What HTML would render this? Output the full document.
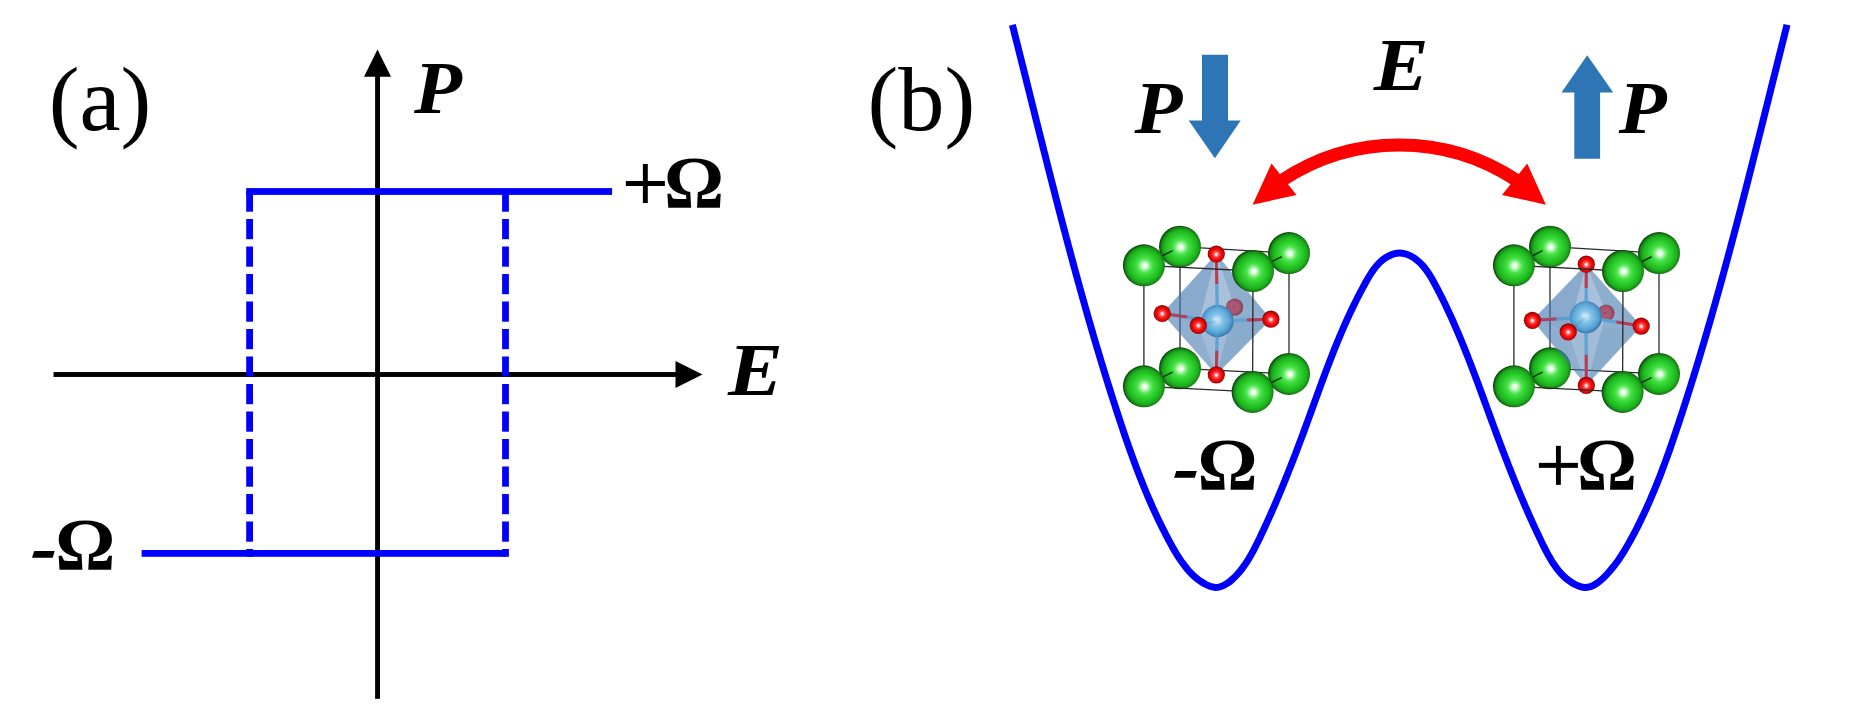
<!DOCTYPE html>
<html><head><meta charset="utf-8"><title>Figure</title>
<style>
html,body{margin:0;padding:0;background:#fff;}
body{width:1861px;height:713px;overflow:hidden;}
svg{display:block;position:absolute;left:0;top:0;}
text{font-family:"Liberation Serif",serif;fill:#000;}
.bi{font-weight:bold;font-style:italic;font-size:75px;}
.b{font-weight:bold;font-size:75px;}
.r{font-size:91px;}
</style></head><body>
<svg width="1861" height="713" viewBox="0 0 1861 713">
<defs>
<radialGradient id="gG" cx="0.52" cy="0.51" r="0.5" fx="0.52" fy="0.51">
<stop offset="0" stop-color="#ffffff"/><stop offset="0.09" stop-color="#f0fff0"/><stop offset="0.2" stop-color="#9af59a"/>
<stop offset="0.36" stop-color="#48e048"/><stop offset="0.6" stop-color="#28cb28"/><stop offset="0.8" stop-color="#1fb21f"/>
<stop offset="0.93" stop-color="#158815"/><stop offset="1" stop-color="#0a500a"/>
</radialGradient>
<radialGradient id="gR" cx="0.5" cy="0.52" r="0.5">
<stop offset="0" stop-color="#ffffff"/><stop offset="0.12" stop-color="#ffd8d8"/><stop offset="0.3" stop-color="#ff4a4a"/>
<stop offset="0.6" stop-color="#f00c0c"/><stop offset="0.85" stop-color="#d00404"/><stop offset="1" stop-color="#7a0000"/>
</radialGradient>
<radialGradient id="gK" cx="0.45" cy="0.5" r="0.5">
<stop offset="0" stop-color="#a83848"/><stop offset="0.25" stop-color="#d85060"/><stop offset="0.7" stop-color="#d04858"/><stop offset="1" stop-color="#a03040"/>
</radialGradient>
<radialGradient id="gB" cx="0.48" cy="0.48" r="0.5">
<stop offset="0" stop-color="#ffffff"/><stop offset="0.14" stop-color="#dff2fc"/><stop offset="0.35" stop-color="#8fd0f2"/>
<stop offset="0.7" stop-color="#66b2e0"/><stop offset="0.9" stop-color="#4e98cc"/><stop offset="1" stop-color="#3a7cb0"/>
</radialGradient>
</defs>
<rect width="1861" height="713" fill="#fff"/>

<!-- panel (a) -->
<g id="panelA">
<rect x="375.1" y="70" width="4.9" height="628.8" fill="#000"/>
<polygon points="377.5,49.5 364.0,76.7 391.0,76.7" fill="#000"/>
<rect x="53.5" y="372.05" width="630" height="4.9" fill="#000"/>
<polygon points="702.5,374.5 675.5,361 675.5,388" fill="#000"/>
<rect x="246.2" y="188.1" width="365.9" height="6.8" fill="#0000ff"/>
<rect x="141.6" y="550.0" width="364" height="6.8" fill="#0000ff"/>
<rect x="246.2" y="191.5" width="6.8" height="20.2" fill="#0000ff"/>
<rect x="246.2" y="219.0" width="6.8" height="20.2" fill="#0000ff"/>
<rect x="246.2" y="246.5" width="6.8" height="20.2" fill="#0000ff"/>
<rect x="246.2" y="274.0" width="6.8" height="20.2" fill="#0000ff"/>
<rect x="246.2" y="301.5" width="6.8" height="20.2" fill="#0000ff"/>
<rect x="246.2" y="329.0" width="6.8" height="20.2" fill="#0000ff"/>
<rect x="246.2" y="356.5" width="6.8" height="20.2" fill="#0000ff"/>
<rect x="246.2" y="384.0" width="6.8" height="20.2" fill="#0000ff"/>
<rect x="246.2" y="411.5" width="6.8" height="20.2" fill="#0000ff"/>
<rect x="246.2" y="439.0" width="6.8" height="20.2" fill="#0000ff"/>
<rect x="246.2" y="466.5" width="6.8" height="20.2" fill="#0000ff"/>
<rect x="246.2" y="494.0" width="6.8" height="20.2" fill="#0000ff"/>
<rect x="246.2" y="521.5" width="6.8" height="20.2" fill="#0000ff"/>
<rect x="246.2" y="549" width="6.8" height="7.8" fill="#0000ff"/>
<rect x="502.1" y="191.5" width="6.8" height="20.2" fill="#0000ff"/>
<rect x="502.1" y="219.0" width="6.8" height="20.2" fill="#0000ff"/>
<rect x="502.1" y="246.5" width="6.8" height="20.2" fill="#0000ff"/>
<rect x="502.1" y="274.0" width="6.8" height="20.2" fill="#0000ff"/>
<rect x="502.1" y="301.5" width="6.8" height="20.2" fill="#0000ff"/>
<rect x="502.1" y="329.0" width="6.8" height="20.2" fill="#0000ff"/>
<rect x="502.1" y="356.5" width="6.8" height="20.2" fill="#0000ff"/>
<rect x="502.1" y="384.0" width="6.8" height="20.2" fill="#0000ff"/>
<rect x="502.1" y="411.5" width="6.8" height="20.2" fill="#0000ff"/>
<rect x="502.1" y="439.0" width="6.8" height="20.2" fill="#0000ff"/>
<rect x="502.1" y="466.5" width="6.8" height="20.2" fill="#0000ff"/>
<rect x="502.1" y="494.0" width="6.8" height="20.2" fill="#0000ff"/>
<rect x="502.1" y="521.5" width="6.8" height="20.2" fill="#0000ff"/>
<rect x="502.1" y="549" width="6.8" height="7.8" fill="#0000ff"/>
<text class="r" transform="translate(48.80,130.00) scale(1.0150,1)">(a)</text>
<text class="bi" transform="translate(414.10,113.00) scale(1.0470,1)">P</text>
<text class="bi" transform="translate(728.10,395.10) scale(1.0960,1)">E</text>
<rect x="625.85" y="181.00" width="39.00" height="5.00" fill="#000"/><rect x="642.90" y="164.00" width="4.90" height="39.00" fill="#000"/>
<text class="b" transform="translate(664.00,207.90) scale(1.0000,1)">Ω</text>
<polygon points="34.2,551.1 54.7,551.1 52.7,557.8 32.0,557.8" fill="#000"/>
<text class="b" transform="translate(55.20,569.70) scale(1.0000,1)">Ω</text>
</g>

<!-- panel (b) -->
<g id="panelB">
<text class="r" transform="translate(867.50,130.00) scale(1.0150,1)">(b)</text>
<path d="M1012.37,24.87 C1012.57,25.68 1013.18,28.09 1013.59,29.71 C1014.00,31.32 1014.40,32.93 1014.81,34.54 C1015.22,36.16 1015.62,37.77 1016.03,39.38 C1016.44,40.99 1016.84,42.61 1017.25,44.22 C1017.66,45.84 1018.06,47.45 1018.47,49.07 C1018.87,50.68 1019.28,52.30 1019.68,53.91 C1020.09,55.53 1020.49,57.15 1020.90,58.76 C1021.30,60.38 1021.71,62.00 1022.11,63.62 C1022.52,65.23 1022.92,66.85 1023.33,68.47 C1023.73,70.09 1024.14,71.71 1024.54,73.33 C1024.95,74.95 1025.35,76.57 1025.76,78.18 C1026.16,79.80 1026.57,81.42 1026.97,83.05 C1027.38,84.67 1027.78,86.29 1028.19,87.91 C1028.59,89.53 1029.00,91.15 1029.40,92.77 C1029.81,94.39 1030.21,96.01 1030.61,97.64 C1031.02,99.26 1031.42,100.88 1031.83,102.50 C1032.24,104.13 1032.64,105.75 1033.05,107.37 C1033.45,109.00 1033.86,110.62 1034.26,112.24 C1034.67,113.87 1035.07,115.49 1035.48,117.11 C1035.89,118.74 1036.29,120.36 1036.70,121.99 C1037.11,123.61 1037.51,125.23 1037.92,126.86 C1038.33,128.48 1038.73,130.11 1039.14,131.73 C1039.55,133.36 1039.95,134.98 1040.36,136.61 C1040.77,138.23 1041.18,139.86 1041.59,141.48 C1042.00,143.11 1042.40,144.73 1042.81,146.36 C1043.22,147.99 1043.63,149.61 1044.04,151.24 C1044.45,152.86 1044.86,154.49 1045.27,156.11 C1045.68,157.74 1046.09,159.37 1046.50,160.99 C1046.91,162.62 1047.33,164.24 1047.74,165.87 C1048.15,167.49 1048.56,169.12 1048.98,170.75 C1049.39,172.37 1049.80,174.00 1050.21,175.62 C1050.63,177.25 1051.04,178.88 1051.46,180.50 C1051.87,182.13 1052.29,183.75 1052.70,185.38 C1053.12,187.00 1053.54,188.63 1053.95,190.26 C1054.37,191.88 1054.79,193.51 1055.20,195.13 C1055.62,196.76 1056.04,198.38 1056.46,200.01 C1056.88,201.63 1057.30,203.26 1057.72,204.88 C1058.14,206.51 1058.56,208.13 1058.98,209.76 C1059.40,211.38 1059.82,213.01 1060.25,214.63 C1060.67,216.26 1061.09,217.88 1061.52,219.50 C1061.94,221.13 1062.36,222.75 1062.79,224.37 C1063.22,226.00 1063.64,227.62 1064.07,229.25 C1064.50,230.87 1064.92,232.49 1065.35,234.11 C1065.78,235.74 1066.21,237.36 1066.64,238.98 C1067.07,240.60 1067.50,242.23 1067.93,243.85 C1068.36,245.47 1068.79,247.09 1069.23,248.71 C1069.66,250.33 1070.09,251.95 1070.53,253.57 C1070.96,255.20 1071.40,256.82 1071.84,258.44 C1072.27,260.06 1072.71,261.68 1073.15,263.29 C1073.59,264.91 1074.02,266.53 1074.46,268.15 C1074.90,269.77 1075.35,271.39 1075.79,273.01 C1076.23,274.62 1076.67,276.24 1077.12,277.86 C1077.56,279.48 1078.00,281.09 1078.45,282.71 C1078.90,284.33 1079.34,285.94 1079.79,287.56 C1080.24,289.17 1080.69,290.79 1081.14,292.40 C1081.59,294.02 1082.04,295.63 1082.49,297.25 C1082.94,298.86 1083.39,300.47 1083.85,302.08 C1084.30,303.70 1084.76,305.31 1085.21,306.92 C1085.67,308.53 1086.13,310.14 1086.59,311.76 C1087.04,313.37 1087.50,314.98 1087.96,316.59 C1088.43,318.20 1088.89,319.81 1089.35,321.41 C1089.81,323.02 1090.28,324.63 1090.74,326.24 C1091.21,327.85 1091.68,329.45 1092.14,331.06 C1092.61,332.67 1093.08,334.27 1093.55,335.88 C1094.02,337.48 1094.49,339.09 1094.97,340.69 C1095.44,342.30 1095.91,343.90 1096.39,345.50 C1096.86,347.10 1097.34,348.71 1097.82,350.31 C1098.30,351.91 1098.78,353.51 1099.26,355.11 C1099.74,356.71 1100.22,358.31 1100.70,359.91 C1101.19,361.51 1101.67,363.11 1102.16,364.70 C1102.64,366.30 1103.13,367.90 1103.62,369.49 C1104.11,371.09 1104.60,372.68 1105.09,374.28 C1105.58,375.87 1106.08,377.47 1106.57,379.06 C1107.07,380.65 1107.56,382.25 1108.06,383.84 C1108.56,385.43 1109.06,387.02 1109.56,388.61 C1110.06,390.20 1110.56,391.79 1111.07,393.38 C1111.57,394.96 1112.08,396.55 1112.58,398.14 C1113.09,399.73 1113.60,401.31 1114.11,402.90 C1114.62,404.48 1115.13,406.07 1115.64,407.65 C1116.16,409.23 1116.67,410.81 1117.19,412.40 C1117.70,413.98 1118.22,415.56 1118.74,417.14 C1119.26,418.72 1119.78,420.30 1120.31,421.87 C1120.83,423.45 1121.36,425.03 1121.88,426.61 C1122.41,428.18 1122.94,429.76 1123.47,431.33 C1124.00,432.91 1124.54,434.48 1125.07,436.05 C1125.61,437.62 1126.15,439.20 1126.69,440.77 C1127.23,442.34 1127.78,443.91 1128.33,445.47 C1128.88,447.04 1129.43,448.61 1129.99,450.18 C1130.54,451.74 1131.10,453.31 1131.67,454.87 C1132.23,456.44 1132.80,458.00 1133.37,459.56 C1133.94,461.13 1134.52,462.69 1135.10,464.25 C1135.68,465.81 1136.26,467.37 1136.85,468.93 C1137.44,470.49 1138.04,472.05 1138.64,473.60 C1139.24,475.16 1139.85,476.71 1140.46,478.27 C1141.07,479.82 1141.68,481.38 1142.31,482.93 C1142.93,484.48 1143.56,486.03 1144.19,487.58 C1144.83,489.13 1145.47,490.68 1146.11,492.23 C1146.76,493.78 1147.41,495.33 1148.07,496.87 C1148.73,498.42 1149.40,499.96 1150.08,501.51 C1150.75,503.05 1151.43,504.59 1152.12,506.13 C1152.81,507.68 1153.50,509.22 1154.21,510.76 C1154.91,512.30 1155.62,513.83 1156.34,515.37 C1157.06,516.91 1157.79,518.44 1158.52,519.98 C1159.26,521.51 1160.00,523.05 1160.75,524.58 C1161.51,526.11 1162.27,527.64 1163.04,529.18 C1163.81,530.71 1164.59,532.23 1165.37,533.76 C1166.16,535.29 1166.96,536.82 1167.77,538.34 C1168.57,539.87 1169.39,541.40 1170.22,542.92 C1171.04,544.44 1171.88,545.96 1172.73,547.46 C1173.59,548.97 1174.45,550.47 1175.34,551.95 C1176.22,553.43 1177.12,554.90 1178.04,556.35 C1178.97,557.79 1179.90,559.22 1180.87,560.62 C1181.83,562.02 1182.82,563.39 1183.83,564.73 C1184.84,566.07 1185.88,567.39 1186.95,568.66 C1188.02,569.93 1189.11,571.17 1190.24,572.36 C1191.37,573.55 1192.52,574.70 1193.72,575.80 C1194.91,576.90 1196.14,577.96 1197.40,578.95 C1198.67,579.95 1199.97,580.90 1201.31,581.78 C1202.66,582.67 1204.04,583.51 1205.47,584.25 C1206.89,585.00 1208.37,585.74 1209.85,586.25 C1211.33,586.77 1212.85,587.20 1214.35,587.34 C1215.85,587.48 1217.36,587.38 1218.85,587.10 C1220.33,586.81 1221.81,586.27 1223.26,585.62 C1224.70,584.96 1226.14,584.10 1227.53,583.16 C1228.92,582.23 1230.29,581.12 1231.60,579.99 C1232.92,578.85 1234.21,577.60 1235.43,576.35 C1236.66,575.10 1237.83,573.80 1238.96,572.49 C1240.09,571.18 1241.16,569.84 1242.20,568.49 C1243.24,567.13 1244.23,565.75 1245.19,564.36 C1246.14,562.96 1247.06,561.55 1247.95,560.12 C1248.84,558.69 1249.70,557.25 1250.54,555.79 C1251.37,554.34 1252.18,552.87 1252.97,551.39 C1253.76,549.91 1254.53,548.42 1255.29,546.93 C1256.05,545.44 1256.79,543.93 1257.53,542.43 C1258.27,540.93 1258.99,539.42 1259.72,537.90 C1260.45,536.39 1261.17,534.88 1261.89,533.36 C1262.60,531.85 1263.32,530.33 1264.03,528.81 C1264.73,527.29 1265.44,525.76 1266.14,524.24 C1266.84,522.71 1267.54,521.18 1268.23,519.65 C1268.92,518.12 1269.61,516.59 1270.29,515.06 C1270.97,513.52 1271.65,511.99 1272.33,510.45 C1273.01,508.91 1273.68,507.37 1274.35,505.83 C1275.01,504.29 1275.68,502.74 1276.34,501.20 C1277.00,499.65 1277.66,498.11 1278.31,496.56 C1278.96,495.01 1279.61,493.46 1280.26,491.91 C1280.91,490.36 1281.55,488.81 1282.19,487.25 C1282.83,485.70 1283.47,484.14 1284.10,482.59 C1284.74,481.03 1285.37,479.48 1286.00,477.92 C1286.62,476.36 1287.25,474.80 1287.87,473.24 C1288.49,471.68 1289.11,470.12 1289.73,468.56 C1290.34,467.00 1290.96,465.43 1291.57,463.87 C1292.18,462.31 1292.79,460.74 1293.39,459.18 C1294.00,457.61 1294.60,456.05 1295.20,454.48 C1295.80,452.92 1296.40,451.35 1297.00,449.79 C1297.59,448.22 1298.19,446.65 1298.78,445.09 C1299.37,443.52 1299.96,441.95 1300.55,440.39 C1301.13,438.82 1301.72,437.25 1302.30,435.69 C1302.89,434.12 1303.47,432.55 1304.05,430.99 C1304.63,429.42 1305.20,427.85 1305.78,426.29 C1306.36,424.72 1306.93,423.16 1307.50,421.59 C1308.08,420.02 1308.65,418.46 1309.22,416.90 C1309.79,415.33 1310.36,413.77 1310.92,412.20 C1311.49,410.64 1312.06,409.08 1312.62,407.51 C1313.19,405.95 1313.76,404.39 1314.32,402.83 C1314.89,401.27 1315.46,399.71 1316.02,398.15 C1316.59,396.59 1317.16,395.03 1317.72,393.47 C1318.29,391.91 1318.86,390.35 1319.43,388.79 C1320.00,387.23 1320.57,385.68 1321.14,384.12 C1321.71,382.56 1322.29,381.01 1322.86,379.45 C1323.44,377.89 1324.02,376.34 1324.60,374.79 C1325.18,373.23 1325.76,371.68 1326.35,370.12 C1326.93,368.57 1327.52,367.02 1328.12,365.47 C1328.71,363.92 1329.30,362.37 1329.90,360.82 C1330.50,359.27 1331.10,357.72 1331.71,356.17 C1332.32,354.62 1332.93,353.07 1333.54,351.52 C1334.16,349.98 1334.78,348.43 1335.40,346.88 C1336.02,345.34 1336.65,343.79 1337.29,342.25 C1337.92,340.71 1338.56,339.16 1339.21,337.62 C1339.85,336.08 1340.50,334.54 1341.16,333.00 C1341.82,331.46 1342.48,329.92 1343.15,328.38 C1343.82,326.84 1344.50,325.30 1345.18,323.76 C1345.87,322.23 1346.56,320.69 1347.25,319.16 C1347.95,317.62 1348.66,316.09 1349.37,314.55 C1350.08,313.02 1350.80,311.49 1351.53,309.95 C1352.26,308.42 1353.00,306.89 1353.74,305.36 C1354.49,303.83 1355.24,302.30 1356.01,300.78 C1356.77,299.25 1357.54,297.72 1358.32,296.20 C1359.10,294.67 1359.89,293.15 1360.69,291.62 C1361.50,290.10 1362.31,288.58 1363.13,287.05 C1363.95,285.53 1364.77,284.01 1365.62,282.49 C1366.46,280.98 1367.32,279.46 1368.20,277.98 C1369.08,276.50 1369.97,275.02 1370.90,273.59 C1371.84,272.16 1372.79,270.75 1373.79,269.40 C1374.78,268.05 1375.81,266.74 1376.89,265.50 C1377.97,264.26 1379.09,263.07 1380.26,261.96 C1381.44,260.86 1382.66,259.81 1383.95,258.87 C1385.23,257.93 1386.58,257.06 1387.99,256.31 C1389.40,255.56 1390.90,254.87 1392.43,254.36 C1393.96,253.84 1395.57,253.42 1397.16,253.22 C1398.75,253.02 1400.38,252.99 1401.96,253.16 C1403.55,253.33 1405.14,253.72 1406.68,254.24 C1408.22,254.75 1409.75,255.46 1411.22,256.25 C1412.70,257.05 1414.14,258.00 1415.51,259.00 C1416.88,260.01 1418.20,261.13 1419.44,262.29 C1420.69,263.44 1421.85,264.67 1422.97,265.93 C1424.08,267.19 1425.12,268.50 1426.11,269.84 C1427.11,271.18 1428.05,272.56 1428.96,273.96 C1429.87,275.36 1430.73,276.80 1431.58,278.24 C1432.43,279.69 1433.24,281.16 1434.05,282.63 C1434.85,284.10 1435.64,285.58 1436.43,287.07 C1437.21,288.55 1437.99,290.04 1438.76,291.53 C1439.53,293.02 1440.30,294.52 1441.05,296.02 C1441.81,297.52 1442.56,299.03 1443.30,300.53 C1444.04,302.04 1444.78,303.55 1445.50,305.07 C1446.23,306.58 1446.95,308.10 1447.67,309.63 C1448.39,311.15 1449.09,312.67 1449.80,314.20 C1450.50,315.73 1451.20,317.26 1451.89,318.79 C1452.58,320.33 1453.26,321.86 1453.94,323.40 C1454.62,324.94 1455.30,326.49 1455.97,328.03 C1456.64,329.57 1457.30,331.12 1457.96,332.67 C1458.62,334.22 1459.27,335.77 1459.92,337.32 C1460.57,338.88 1461.21,340.43 1461.85,341.99 C1462.49,343.55 1463.13,345.11 1463.76,346.67 C1464.39,348.23 1465.02,349.79 1465.64,351.35 C1466.27,352.92 1466.89,354.48 1467.50,356.05 C1468.12,357.61 1468.73,359.18 1469.34,360.75 C1469.95,362.32 1470.56,363.89 1471.16,365.46 C1471.77,367.03 1472.37,368.60 1472.96,370.17 C1473.56,371.74 1474.16,373.31 1474.75,374.88 C1475.34,376.45 1475.93,378.03 1476.52,379.60 C1477.11,381.17 1477.70,382.74 1478.28,384.32 C1478.86,385.89 1479.45,387.46 1480.03,389.03 C1480.61,390.61 1481.19,392.18 1481.76,393.75 C1482.34,395.32 1482.92,396.89 1483.49,398.46 C1484.07,400.03 1484.65,401.60 1485.22,403.17 C1485.79,404.74 1486.37,406.31 1486.94,407.87 C1487.51,409.44 1488.08,411.00 1488.66,412.57 C1489.23,414.13 1489.80,415.69 1490.37,417.26 C1490.94,418.82 1491.52,420.38 1492.09,421.93 C1492.66,423.49 1493.24,425.05 1493.81,426.60 C1494.38,428.16 1494.96,429.71 1495.53,431.26 C1496.11,432.82 1496.68,434.37 1497.26,435.92 C1497.84,437.46 1498.42,439.01 1499.00,440.56 C1499.58,442.11 1500.16,443.65 1500.74,445.20 C1501.32,446.74 1501.91,448.29 1502.49,449.83 C1503.08,451.38 1503.67,452.92 1504.26,454.46 C1504.85,456.00 1505.44,457.54 1506.04,459.09 C1506.63,460.63 1507.23,462.17 1507.83,463.71 C1508.43,465.25 1509.03,466.79 1509.64,468.33 C1510.24,469.87 1510.85,471.41 1511.46,472.95 C1512.08,474.49 1512.69,476.03 1513.31,477.57 C1513.93,479.11 1514.55,480.65 1515.17,482.19 C1515.80,483.73 1516.43,485.27 1517.06,486.81 C1517.69,488.35 1518.33,489.89 1518.97,491.43 C1519.61,492.97 1520.25,494.51 1520.90,496.06 C1521.55,497.60 1522.21,499.14 1522.86,500.69 C1523.52,502.23 1524.19,503.78 1524.85,505.32 C1525.52,506.87 1526.19,508.42 1526.87,509.97 C1527.55,511.52 1528.23,513.07 1528.92,514.62 C1529.61,516.17 1530.30,517.72 1531.00,519.27 C1531.70,520.83 1532.40,522.38 1533.11,523.94 C1533.83,525.49 1534.54,527.05 1535.26,528.61 C1535.99,530.17 1536.72,531.73 1537.45,533.30 C1538.19,534.86 1538.93,536.43 1539.68,537.99 C1540.42,539.56 1541.18,541.13 1541.94,542.70 C1542.70,544.27 1543.47,545.84 1544.26,547.40 C1545.04,548.96 1545.84,550.52 1546.66,552.05 C1547.47,553.59 1548.30,555.11 1549.16,556.61 C1550.01,558.11 1550.88,559.59 1551.79,561.04 C1552.69,562.48 1553.61,563.91 1554.57,565.29 C1555.53,566.67 1556.51,568.03 1557.53,569.33 C1558.56,570.64 1559.61,571.90 1560.70,573.12 C1561.80,574.33 1562.93,575.50 1564.11,576.60 C1565.28,577.71 1566.50,578.76 1567.76,579.75 C1569.03,580.73 1570.34,581.66 1571.70,582.52 C1573.07,583.37 1574.49,584.17 1575.95,584.86 C1577.41,585.55 1578.95,586.21 1580.46,586.63 C1581.98,587.05 1583.54,587.36 1585.05,587.40 C1586.56,587.43 1588.06,587.22 1589.52,586.84 C1590.99,586.46 1592.44,585.84 1593.85,585.12 C1595.26,584.40 1596.65,583.48 1598.00,582.50 C1599.35,581.52 1600.67,580.39 1601.96,579.24 C1603.24,578.09 1604.49,576.83 1605.71,575.59 C1606.92,574.34 1608.09,573.06 1609.24,571.77 C1610.38,570.48 1611.48,569.16 1612.56,567.83 C1613.63,566.50 1614.67,565.15 1615.69,563.78 C1616.71,562.42 1617.69,561.04 1618.66,559.64 C1619.62,558.25 1620.56,556.84 1621.48,555.42 C1622.40,554.00 1623.29,552.57 1624.17,551.13 C1625.05,549.69 1625.91,548.24 1626.76,546.78 C1627.61,545.33 1628.44,543.86 1629.26,542.39 C1630.08,540.92 1630.89,539.45 1631.69,537.97 C1632.49,536.49 1633.28,535.01 1634.06,533.53 C1634.85,532.04 1635.62,530.55 1636.39,529.06 C1637.15,527.57 1637.91,526.07 1638.66,524.57 C1639.40,523.07 1640.14,521.57 1640.88,520.06 C1641.61,518.56 1642.33,517.05 1643.05,515.53 C1643.76,514.02 1644.47,512.51 1645.17,510.99 C1645.87,509.47 1646.57,507.95 1647.25,506.42 C1647.94,504.89 1648.62,503.37 1649.29,501.84 C1649.96,500.30 1650.63,498.77 1651.29,497.23 C1651.95,495.70 1652.60,494.16 1653.25,492.62 C1653.89,491.08 1654.53,489.53 1655.17,487.99 C1655.80,486.44 1656.43,484.89 1657.05,483.34 C1657.67,481.79 1658.29,480.23 1658.90,478.68 C1659.51,477.12 1660.12,475.56 1660.72,474.00 C1661.32,472.44 1661.91,470.88 1662.50,469.32 C1663.09,467.75 1663.68,466.19 1664.26,464.62 C1664.84,463.05 1665.42,461.48 1665.99,459.91 C1666.56,458.34 1667.13,456.77 1667.70,455.20 C1668.26,453.62 1668.82,452.05 1669.38,450.47 C1669.94,448.89 1670.49,447.31 1671.04,445.73 C1671.59,444.15 1672.14,442.57 1672.68,440.99 C1673.23,439.41 1673.77,437.83 1674.30,436.24 C1674.84,434.66 1675.38,433.07 1675.91,431.49 C1676.44,429.90 1676.97,428.31 1677.50,426.73 C1678.03,425.14 1678.56,423.55 1679.08,421.96 C1679.61,420.37 1680.13,418.78 1680.65,417.19 C1681.17,415.60 1681.69,414.01 1682.21,412.42 C1682.73,410.83 1683.24,409.24 1683.76,407.65 C1684.27,406.05 1684.78,404.46 1685.29,402.87 C1685.80,401.27 1686.31,399.68 1686.82,398.09 C1687.33,396.49 1687.84,394.90 1688.34,393.30 C1688.85,391.71 1689.35,390.11 1689.85,388.52 C1690.35,386.92 1690.85,385.32 1691.35,383.73 C1691.85,382.13 1692.34,380.53 1692.84,378.93 C1693.34,377.33 1693.83,375.74 1694.32,374.14 C1694.81,372.54 1695.31,370.94 1695.80,369.34 C1696.28,367.74 1696.77,366.14 1697.26,364.54 C1697.75,362.94 1698.23,361.33 1698.72,359.73 C1699.20,358.13 1699.68,356.53 1700.16,354.93 C1700.64,353.32 1701.12,351.72 1701.60,350.12 C1702.08,348.51 1702.56,346.91 1703.03,345.30 C1703.51,343.70 1703.98,342.09 1704.46,340.49 C1704.93,338.88 1705.40,337.28 1705.87,335.67 C1706.34,334.07 1706.81,332.46 1707.28,330.85 C1707.75,329.25 1708.21,327.64 1708.68,326.03 C1709.14,324.42 1709.61,322.82 1710.07,321.21 C1710.53,319.60 1711.00,317.99 1711.46,316.38 C1711.92,314.77 1712.38,313.16 1712.84,311.55 C1713.29,309.94 1713.75,308.33 1714.21,306.72 C1714.66,305.11 1715.12,303.50 1715.57,301.89 C1716.03,300.28 1716.48,298.67 1716.93,297.06 C1717.38,295.45 1717.83,293.83 1718.28,292.22 C1718.73,290.61 1719.18,289.00 1719.63,287.38 C1720.08,285.77 1720.52,284.16 1720.97,282.54 C1721.41,280.93 1721.86,279.32 1722.30,277.70 C1722.74,276.09 1723.19,274.47 1723.63,272.86 C1724.07,271.24 1724.51,269.63 1724.95,268.01 C1725.39,266.40 1725.83,264.78 1726.27,263.17 C1726.70,261.55 1727.14,259.93 1727.58,258.32 C1728.01,256.70 1728.45,255.09 1728.88,253.47 C1729.32,251.85 1729.75,250.23 1730.18,248.62 C1730.62,247.00 1731.05,245.38 1731.48,243.76 C1731.91,242.15 1732.34,240.53 1732.77,238.91 C1733.20,237.29 1733.63,235.67 1734.06,234.05 C1734.48,232.44 1734.91,230.82 1735.34,229.20 C1735.76,227.58 1736.19,225.96 1736.61,224.34 C1737.04,222.72 1737.46,221.10 1737.89,219.48 C1738.31,217.86 1738.73,216.24 1739.16,214.62 C1739.58,213.00 1740.00,211.38 1740.42,209.76 C1740.84,208.14 1741.26,206.52 1741.68,204.90 C1742.10,203.28 1742.52,201.65 1742.94,200.03 C1743.36,198.41 1743.78,196.79 1744.19,195.17 C1744.61,193.55 1745.03,191.93 1745.44,190.30 C1745.86,188.68 1746.28,187.06 1746.69,185.44 C1747.11,183.82 1747.52,182.19 1747.94,180.57 C1748.35,178.95 1748.76,177.33 1749.18,175.70 C1749.59,174.08 1750.00,172.46 1750.42,170.84 C1750.83,169.21 1751.24,167.59 1751.65,165.97 C1752.06,164.34 1752.47,162.72 1752.89,161.10 C1753.30,159.48 1753.71,157.85 1754.12,156.23 C1754.53,154.61 1754.94,152.98 1755.35,151.36 C1755.76,149.74 1756.16,148.11 1756.57,146.49 C1756.98,144.86 1757.39,143.24 1757.80,141.62 C1758.21,139.99 1758.62,138.37 1759.02,136.75 C1759.43,135.12 1759.84,133.50 1760.25,131.88 C1760.65,130.25 1761.06,128.63 1761.47,127.00 C1761.87,125.38 1762.28,123.76 1762.69,122.13 C1763.09,120.51 1763.50,118.88 1763.90,117.26 C1764.31,115.64 1764.72,114.01 1765.12,112.39 C1765.53,110.77 1765.93,109.14 1766.34,107.52 C1766.74,105.89 1767.15,104.27 1767.55,102.65 C1767.96,101.02 1768.37,99.40 1768.77,97.77 C1769.18,96.15 1769.58,94.53 1769.99,92.90 C1770.39,91.28 1770.80,89.66 1771.20,88.03 C1771.61,86.41 1772.01,84.79 1772.42,83.16 C1772.82,81.54 1773.23,79.92 1773.63,78.29 C1774.04,76.67 1774.44,75.05 1774.85,73.42 C1775.25,71.80 1775.66,70.18 1776.06,68.55 C1776.47,66.93 1776.87,65.31 1777.28,63.68 C1777.68,62.06 1778.09,60.44 1778.49,58.82 C1778.90,57.19 1779.31,55.57 1779.71,53.95 C1780.12,52.33 1780.52,50.70 1780.93,49.08 C1781.34,47.46 1781.74,45.84 1782.15,44.21 C1782.56,42.59 1782.96,40.97 1783.37,39.35 C1783.78,37.73 1784.19,36.11 1784.59,34.48 C1785.00,32.86 1785.41,31.24 1785.82,29.62 C1786.23,28.00 1786.84,25.57 1787.04,24.76" fill="none" stroke="#0000ff" stroke-width="7" stroke-linejoin="round"/>
<!-- blue arrows -->
<polygon points="1202,54.7 1228,54.7 1228,120.4 1240.7,120.4 1214.9,158.3 1188.7,120.4 1202,120.4" fill="#2e75b6"/>
<polygon points="1587.2,55.2 1613.2,92.4 1600.1,92.4 1600.1,158.8 1574.3,158.8 1574.3,92.4 1561.5,92.4" fill="#2e75b6"/>
<text class="bi" transform="translate(1134.60,133.00) scale(1.0470,1)">P</text>
<text class="bi" transform="translate(1618.80,133.00) scale(1.0470,1)">P</text>
<text class="bi" transform="translate(1373.80,90.00) scale(1.0960,1)">E</text>
<!-- red arrow -->
<path d="M1281.5,180.7 A212.0,212.0 0 0 1 1517.1,180.7" fill="none" stroke="#ff0000" stroke-width="13"/>
<polygon points="1252.6,204.7 1271.5,163.4 1296.5,195" fill="#ff0000"/>
<polygon points="1545.9,204.7 1527.2,163.6 1502.0,195" fill="#ff0000"/>
<!-- crystals -->
<g id="cl">
<line x1="1180.0" y1="246.7" x2="1289.0" y2="253.1" stroke="#2a2a2a" stroke-width="1.3" stroke-linecap="butt"/>
<line x1="1180.0" y1="368.3" x2="1289.0" y2="373.9" stroke="#2a2a2a" stroke-width="1.3" stroke-linecap="butt"/>
<line x1="1180.0" y1="246.7" x2="1180.0" y2="368.3" stroke="#2a2a2a" stroke-width="1.3" stroke-linecap="butt"/>
<line x1="1289.0" y1="253.1" x2="1289.0" y2="373.9" stroke="#2a2a2a" stroke-width="1.3" stroke-linecap="butt"/>
<circle cx="1180.0" cy="246.7" r="21.0" fill="url(#gG)"/>
<circle cx="1289.0" cy="253.1" r="21.0" fill="url(#gG)"/>
<circle cx="1180.0" cy="368.3" r="21.0" fill="url(#gG)"/>
<circle cx="1289.0" cy="373.9" r="21.0" fill="url(#gG)"/>
<line x1="1143.9" y1="265.3" x2="1172.1" y2="250.8" stroke="#0a300a" stroke-width="1.5" stroke-linecap="round"/>
<line x1="1253.0" y1="271.0" x2="1281.1" y2="257.0" stroke="#0a300a" stroke-width="1.5" stroke-linecap="round"/>
<line x1="1143.9" y1="386.3" x2="1172.1" y2="372.3" stroke="#0a300a" stroke-width="1.5" stroke-linecap="round"/>
<line x1="1252.6" y1="391.9" x2="1281.0" y2="377.9" stroke="#0a300a" stroke-width="1.5" stroke-linecap="round"/>
<polygon points="1216.3,254.0 1234.6,307.2 1162.2,313.5" fill="rgb(66,120,174)" fill-opacity="0.250"/>
<polygon points="1216.3,254.0 1234.6,307.2 1270.9,319.2" fill="rgb(66,120,174)" fill-opacity="0.440"/>
<polygon points="1216.3,374.8 1234.6,307.2 1162.2,313.5" fill="rgb(66,120,174)" fill-opacity="0.250"/>
<polygon points="1216.3,374.8 1234.6,307.2 1270.9,319.2" fill="rgb(66,120,174)" fill-opacity="0.430"/>
<line x1="1217.5" y1="321.0" x2="1226.9" y2="313.4" stroke="#5ba3d6" stroke-width="3.0" stroke-linecap="butt"/>
<line x1="1226.9" y1="313.4" x2="1234.6" y2="307.2" stroke="#c03a4c" stroke-width="3.0" stroke-linecap="butt"/>
<circle cx="1234.6" cy="307.2" r="8.6" fill="url(#gK)"/>
<line x1="1217.5" y1="321.0" x2="1216.8" y2="284.1" stroke="#5ba3d6" stroke-width="3.0" stroke-linecap="butt"/>
<line x1="1216.8" y1="284.1" x2="1216.3" y2="254.0" stroke="#c8354a" stroke-width="3.0" stroke-linecap="butt"/>
<line x1="1217.5" y1="321.0" x2="1216.8" y2="350.6" stroke="#5ba3d6" stroke-width="3.0" stroke-linecap="butt"/>
<line x1="1216.8" y1="350.6" x2="1216.3" y2="374.8" stroke="#c8354a" stroke-width="3.0" stroke-linecap="butt"/>
<line x1="1217.5" y1="321.0" x2="1187.1" y2="316.9" stroke="#5ba3d6" stroke-width="3.0" stroke-linecap="butt"/>
<line x1="1187.1" y1="316.9" x2="1162.2" y2="313.5" stroke="#c8354a" stroke-width="3.0" stroke-linecap="butt"/>
<line x1="1217.5" y1="321.0" x2="1246.9" y2="320.0" stroke="#5ba3d6" stroke-width="3.0" stroke-linecap="butt"/>
<line x1="1246.9" y1="320.0" x2="1270.9" y2="319.2" stroke="#c8354a" stroke-width="3.0" stroke-linecap="butt"/>
<circle cx="1217.5" cy="321.0" r="16.0" fill="url(#gB)"/>
<line x1="1217.5" y1="321.0" x2="1206.9" y2="323.4" stroke="#4f93c6" stroke-width="3.0" stroke-linecap="butt"/>
<line x1="1206.9" y1="323.4" x2="1198.3" y2="325.3" stroke="#c8354a" stroke-width="3.0" stroke-linecap="butt"/>
<polygon points="1216.3,254.0 1198.3,325.3 1162.2,313.5" fill="rgb(66,120,174)" fill-opacity="0.500"/>
<polygon points="1216.3,254.0 1198.3,325.3 1270.9,319.2" fill="rgb(66,120,174)" fill-opacity="0.280"/>
<polygon points="1216.3,374.8 1198.3,325.3 1162.2,313.5" fill="rgb(66,120,174)" fill-opacity="0.450"/>
<polygon points="1216.3,374.8 1198.3,325.3 1270.9,319.2" fill="rgb(66,120,174)" fill-opacity="0.330"/>
<line x1="1216.8" y1="284.1" x2="1216.3" y2="254.0" stroke="#c8354a" stroke-width="3.0" opacity="0.55"/>
<line x1="1217.5" y1="321.0" x2="1216.8" y2="284.1" stroke="#6db4e6" stroke-width="3.0" opacity="0.45"/>
<line x1="1216.8" y1="350.6" x2="1216.3" y2="374.8" stroke="#c8354a" stroke-width="3.0" opacity="0.55"/>
<line x1="1217.5" y1="321.0" x2="1216.8" y2="350.6" stroke="#6db4e6" stroke-width="3.0" opacity="0.45"/>
<line x1="1187.1" y1="316.9" x2="1162.2" y2="313.5" stroke="#c8354a" stroke-width="3.0" opacity="0.55"/>
<line x1="1217.5" y1="321.0" x2="1187.1" y2="316.9" stroke="#6db4e6" stroke-width="3.0" opacity="0.45"/>
<line x1="1246.9" y1="320.0" x2="1270.9" y2="319.2" stroke="#c8354a" stroke-width="3.0" opacity="0.55"/>
<line x1="1217.5" y1="321.0" x2="1246.9" y2="320.0" stroke="#6db4e6" stroke-width="3.0" opacity="0.45"/>
<circle cx="1217.5" cy="321.0" r="16.0" fill="url(#gB)" opacity="0.62"/>
<circle cx="1216.3" cy="254.0" r="8.6" fill="url(#gR)"/>
<circle cx="1216.3" cy="374.8" r="8.6" fill="url(#gR)"/>
<circle cx="1162.2" cy="313.5" r="8.6" fill="url(#gR)"/>
<circle cx="1270.9" cy="319.2" r="8.6" fill="url(#gR)"/>
<circle cx="1198.3" cy="325.3" r="8.6" fill="url(#gR)"/>
<line x1="1143.9" y1="265.3" x2="1253.0" y2="271.0" stroke="#2a2a2a" stroke-width="1.3" stroke-linecap="butt"/>
<line x1="1143.9" y1="386.3" x2="1252.6" y2="391.9" stroke="#2a2a2a" stroke-width="1.3" stroke-linecap="butt"/>
<line x1="1143.9" y1="265.3" x2="1143.9" y2="386.3" stroke="#2a2a2a" stroke-width="1.3" stroke-linecap="butt"/>
<line x1="1253.0" y1="271.0" x2="1252.6" y2="391.9" stroke="#2a2a2a" stroke-width="1.3" stroke-linecap="butt"/>
<circle cx="1143.9" cy="265.3" r="21.0" fill="url(#gG)"/>
<circle cx="1253.0" cy="271.0" r="21.0" fill="url(#gG)"/>
<circle cx="1143.9" cy="386.3" r="21.0" fill="url(#gG)"/>
<circle cx="1252.6" cy="391.9" r="21.0" fill="url(#gG)"/>
</g>
<g id="cr">
<line x1="1550.0" y1="246.7" x2="1659.0" y2="253.1" stroke="#2a2a2a" stroke-width="1.3" stroke-linecap="butt"/>
<line x1="1550.0" y1="368.3" x2="1659.0" y2="373.9" stroke="#2a2a2a" stroke-width="1.3" stroke-linecap="butt"/>
<line x1="1550.0" y1="246.7" x2="1550.0" y2="368.3" stroke="#2a2a2a" stroke-width="1.3" stroke-linecap="butt"/>
<line x1="1659.0" y1="253.1" x2="1659.0" y2="373.9" stroke="#2a2a2a" stroke-width="1.3" stroke-linecap="butt"/>
<circle cx="1550.0" cy="246.7" r="21.0" fill="url(#gG)"/>
<circle cx="1659.0" cy="253.1" r="21.0" fill="url(#gG)"/>
<circle cx="1550.0" cy="368.3" r="21.0" fill="url(#gG)"/>
<circle cx="1659.0" cy="373.9" r="21.0" fill="url(#gG)"/>
<line x1="1513.9" y1="265.3" x2="1542.1" y2="250.8" stroke="#0a300a" stroke-width="1.5" stroke-linecap="round"/>
<line x1="1623.0" y1="271.0" x2="1651.1" y2="257.0" stroke="#0a300a" stroke-width="1.5" stroke-linecap="round"/>
<line x1="1513.9" y1="386.3" x2="1542.1" y2="372.3" stroke="#0a300a" stroke-width="1.5" stroke-linecap="round"/>
<line x1="1622.6" y1="391.9" x2="1651.0" y2="377.9" stroke="#0a300a" stroke-width="1.5" stroke-linecap="round"/>
<polygon points="1586.3,264.2 1606.0,313.0 1532.4,320.3" fill="rgb(66,120,174)" fill-opacity="0.250"/>
<polygon points="1586.3,264.2 1606.0,313.0 1641.2,326.1" fill="rgb(66,120,174)" fill-opacity="0.440"/>
<polygon points="1586.3,385.4 1606.0,313.0 1532.4,320.3" fill="rgb(66,120,174)" fill-opacity="0.250"/>
<polygon points="1586.3,385.4 1606.0,313.0 1641.2,326.1" fill="rgb(66,120,174)" fill-opacity="0.430"/>
<line x1="1586.0" y1="317.2" x2="1597.0" y2="314.9" stroke="#5ba3d6" stroke-width="3.0" stroke-linecap="butt"/>
<line x1="1597.0" y1="314.9" x2="1606.0" y2="313.0" stroke="#c03a4c" stroke-width="3.0" stroke-linecap="butt"/>
<circle cx="1606.0" cy="313.0" r="8.6" fill="url(#gK)"/>
<line x1="1586.0" y1="317.2" x2="1586.2" y2="288.1" stroke="#5ba3d6" stroke-width="3.0" stroke-linecap="butt"/>
<line x1="1586.2" y1="288.1" x2="1586.3" y2="264.2" stroke="#c8354a" stroke-width="3.0" stroke-linecap="butt"/>
<line x1="1586.0" y1="317.2" x2="1586.2" y2="354.7" stroke="#5ba3d6" stroke-width="3.0" stroke-linecap="butt"/>
<line x1="1586.2" y1="354.7" x2="1586.3" y2="385.4" stroke="#c8354a" stroke-width="3.0" stroke-linecap="butt"/>
<line x1="1586.0" y1="317.2" x2="1556.5" y2="318.9" stroke="#5ba3d6" stroke-width="3.0" stroke-linecap="butt"/>
<line x1="1556.5" y1="318.9" x2="1532.4" y2="320.3" stroke="#c8354a" stroke-width="3.0" stroke-linecap="butt"/>
<line x1="1586.0" y1="317.2" x2="1616.4" y2="322.1" stroke="#5ba3d6" stroke-width="3.0" stroke-linecap="butt"/>
<line x1="1616.4" y1="322.1" x2="1641.2" y2="326.1" stroke="#c8354a" stroke-width="3.0" stroke-linecap="butt"/>
<circle cx="1586.0" cy="317.2" r="16.0" fill="url(#gB)"/>
<line x1="1586.0" y1="317.2" x2="1576.2" y2="325.3" stroke="#4f93c6" stroke-width="3.0" stroke-linecap="butt"/>
<line x1="1576.2" y1="325.3" x2="1568.2" y2="331.9" stroke="#c8354a" stroke-width="3.0" stroke-linecap="butt"/>
<polygon points="1586.3,264.2 1568.2,331.9 1532.4,320.3" fill="rgb(66,120,174)" fill-opacity="0.500"/>
<polygon points="1586.3,264.2 1568.2,331.9 1641.2,326.1" fill="rgb(66,120,174)" fill-opacity="0.280"/>
<polygon points="1586.3,385.4 1568.2,331.9 1532.4,320.3" fill="rgb(66,120,174)" fill-opacity="0.450"/>
<polygon points="1586.3,385.4 1568.2,331.9 1641.2,326.1" fill="rgb(66,120,174)" fill-opacity="0.330"/>
<line x1="1586.2" y1="288.1" x2="1586.3" y2="264.2" stroke="#c8354a" stroke-width="3.0" opacity="0.55"/>
<line x1="1586.0" y1="317.2" x2="1586.2" y2="288.1" stroke="#6db4e6" stroke-width="3.0" opacity="0.45"/>
<line x1="1586.2" y1="354.7" x2="1586.3" y2="385.4" stroke="#c8354a" stroke-width="3.0" opacity="0.55"/>
<line x1="1586.0" y1="317.2" x2="1586.2" y2="354.7" stroke="#6db4e6" stroke-width="3.0" opacity="0.45"/>
<line x1="1556.5" y1="318.9" x2="1532.4" y2="320.3" stroke="#c8354a" stroke-width="3.0" opacity="0.55"/>
<line x1="1586.0" y1="317.2" x2="1556.5" y2="318.9" stroke="#6db4e6" stroke-width="3.0" opacity="0.45"/>
<line x1="1616.4" y1="322.1" x2="1641.2" y2="326.1" stroke="#c8354a" stroke-width="3.0" opacity="0.55"/>
<line x1="1586.0" y1="317.2" x2="1616.4" y2="322.1" stroke="#6db4e6" stroke-width="3.0" opacity="0.45"/>
<circle cx="1586.0" cy="317.2" r="16.0" fill="url(#gB)" opacity="0.62"/>
<circle cx="1586.3" cy="264.2" r="8.6" fill="url(#gR)"/>
<circle cx="1586.3" cy="385.4" r="8.6" fill="url(#gR)"/>
<circle cx="1532.4" cy="320.3" r="8.6" fill="url(#gR)"/>
<circle cx="1641.2" cy="326.1" r="8.6" fill="url(#gR)"/>
<circle cx="1568.2" cy="331.9" r="8.6" fill="url(#gR)"/>
<line x1="1513.9" y1="265.3" x2="1623.0" y2="271.0" stroke="#2a2a2a" stroke-width="1.3" stroke-linecap="butt"/>
<line x1="1513.9" y1="386.3" x2="1622.6" y2="391.9" stroke="#2a2a2a" stroke-width="1.3" stroke-linecap="butt"/>
<line x1="1513.9" y1="265.3" x2="1513.9" y2="386.3" stroke="#2a2a2a" stroke-width="1.3" stroke-linecap="butt"/>
<line x1="1623.0" y1="271.0" x2="1622.6" y2="391.9" stroke="#2a2a2a" stroke-width="1.3" stroke-linecap="butt"/>
<circle cx="1513.9" cy="265.3" r="21.0" fill="url(#gG)"/>
<circle cx="1623.0" cy="271.0" r="21.0" fill="url(#gG)"/>
<circle cx="1513.9" cy="386.3" r="21.0" fill="url(#gG)"/>
<circle cx="1622.6" cy="391.9" r="21.0" fill="url(#gG)"/>
</g>
<polygon points="1176.3,471.1 1196.8,471.1 1194.8,477.8 1174.1,477.8" fill="#000"/>
<text class="b" transform="translate(1197.50,489.70) scale(1.0000,1)">Ω</text>
<rect x="1538.90" y="462.85" width="39.00" height="5.00" fill="#000"/><rect x="1555.95" y="445.85" width="4.90" height="39.00" fill="#000"/>
<text class="b" transform="translate(1577.10,489.70) scale(1.0000,1)">Ω</text>
</g>
</svg>
</body></html>
